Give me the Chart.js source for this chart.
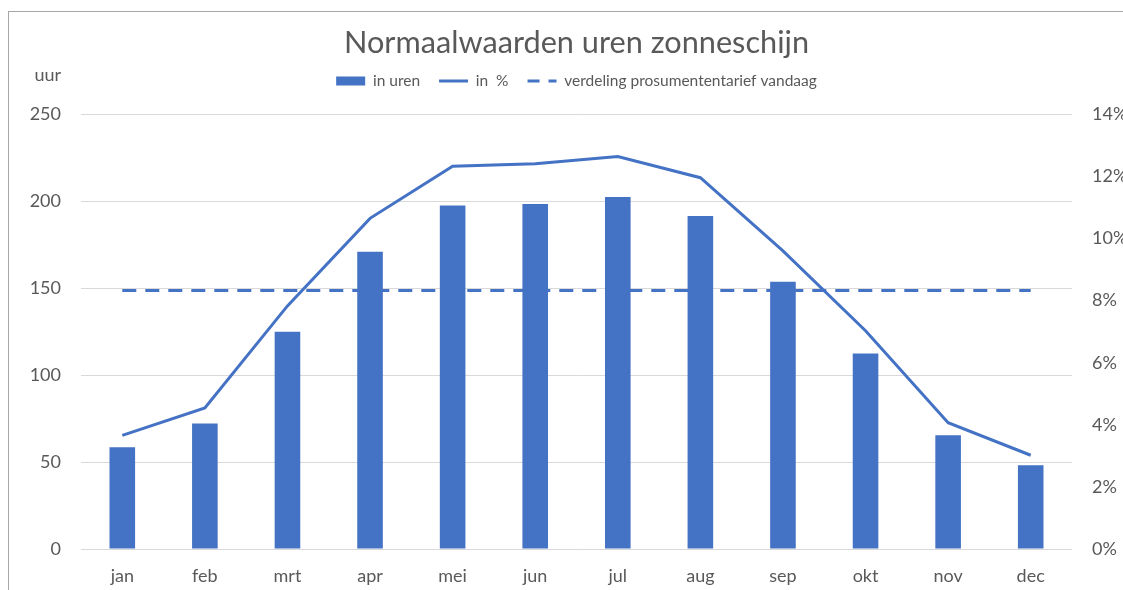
<!DOCTYPE html>
<html>
<head>
<meta charset="utf-8">
<script src="https://cdn.jsdelivr.net/npm/chart.js@4/dist/chart.umd.min.js"></script>
<style>
  html, body { margin: 0; padding: 0; background: #fff; }
  #wrap { position: relative; width: 1123px; height: 590px; }
  #frame { position: absolute; left: 8px; top: 11px; width: 1200px; height: 700px; border-left: 1px solid #a6a6a6; border-top: 1px solid #a6a6a6; pointer-events: none; }
  canvas { position: absolute; left: 0; top: 0; }
</style>
</head>
<body>
<div id="wrap">
  <canvas id="c" width="1123" height="590"></canvas>
  <div id="frame"></div>
</div>
<script>
const titleText = 'Normaalwaarden uren zonneschijn';
const yAxisUnit = 'uur';
const months = ['jan','feb','mrt','apr','mei','jun','jul','aug','sep','okt','nov','dec'];
const hours = [58.5, 72.2, 125, 171, 197.5, 198.5, 202.5, 191.5, 153.7, 112.4, 65.4, 48.2];
const percent = [3.66, 4.54, 7.83, 10.65, 12.33, 12.41, 12.64, 11.96, 9.60, 7.03, 4.07, 3.02];
const tariff = [8.33, 8.33, 8.33, 8.33, 8.33, 8.33, 8.33, 8.33, 8.33, 8.33, 8.33, 8.33];
const seriesNames = ['in uren', 'in  %', 'verdeling prosumententarief vandaag'];
const leftTicks = [0, 50, 100, 150, 200, 250];
const rightTicks = [0, 2, 4, 6, 8, 10, 12, 14];

const BLUE = '#4472C4';
const GREY = '#595959';
const FONT = 'Lato, "Open Sans", sans-serif';

const unitLabel = {
  id: 'unitLabel',
  beforeLayout(chart) {
    const lg = chart.legend;
    if (lg && !lg._fixedH) {
      const orig = lg.fit.bind(lg);
      lg.fit = function () { orig(); this.height = 60; };
      lg._fixedH = true;
    }
  },
  afterDraw(chart) {
    const ctx = chart.ctx;
    ctx.save();
    ctx.font = '18px ' + FONT;
    ctx.fillStyle = GREY;
    ctx.textAlign = 'right';
    ctx.textBaseline = 'alphabetic';
    ctx.fillText(yAxisUnit, 61, 81);
    ctx.restore();
  }
};

new Chart(document.getElementById('c'), {
  data: {
    labels: months,
    datasets: [
      { type: 'bar', label: seriesNames[0], data: hours, yAxisID: 'y',
        backgroundColor: BLUE, borderColor: '#ffffff', borderWidth: 0,
        barPercentage: 0.62, categoryPercentage: 0.5, order: 3 },
      { type: 'line', label: seriesNames[1], data: percent, yAxisID: 'y1',
        borderColor: BLUE, backgroundColor: BLUE, borderWidth: 3, pointRadius: 0,
        tension: 0, fill: false, order: 2 },
      { type: 'line', label: seriesNames[2], data: tariff, yAxisID: 'y1',
        borderColor: BLUE, backgroundColor: BLUE, borderWidth: 3, borderDash: [14, 9],
        pointRadius: 0, tension: 0, fill: false, order: 1 }
    ]
  },
  options: {
    responsive: false,
    animation: false,
    layout: { padding: { left: 0, right: 0, top: 0, bottom: 0 } },
    plugins: {
      title: {
        display: true, text: titleText, color: GREY, fullSize: false,
        font: { family: FONT, size: 30.7, weight: 'normal', lineHeight: 1.2 },
        padding: { top: 24.5, bottom: -7 }
      },
      legend: {
        display: true, fullSize: false,
        labels: {
          color: GREY,
          font: { family: FONT, size: 15.5 },
          usePointStyle: true,
          boxWidth: 21, boxHeight: 9, pointStyleWidth: 29,
          padding: 19,
          generateLabels(chart) {
            return chart.data.datasets.map((ds, i) => ({
              text: ds.label,
              fillStyle: BLUE,
              strokeStyle: BLUE,
              lineWidth: i === 0 ? 0 : 3,
              lineDash: ds.borderDash ? [12, 9] : [],
              pointStyle: i === 0 ? 'rect' : 'line',
              datasetIndex: i,
              hidden: false,
              fontColor: GREY
            }));
          }
        }
      },
      tooltip: { enabled: false }
    },
    scales: {
      x: {
        grid: { display: false },
        border: { display: false },
        ticks: { color: GREY, font: { family: FONT, size: 18 }, padding: 8 },
        afterFit(scale) { scale.height = 41; }
      },
      y: {
        position: 'left', min: 0, max: 250,
        afterBuildTicks(scale) { scale.ticks = leftTicks.map(v => ({ value: v })); },
        grid: { color: '#d9d9d9', lineWidth: 1, drawTicks: false },
        border: { display: false },
        ticks: { color: GREY, font: { family: FONT, size: 18 }, padding: 20 },
        afterFit(scale) { scale.width = 81; }
      },
      y1: {
        position: 'right', min: 0, max: 14,
        afterBuildTicks(scale) { scale.ticks = rightTicks.map(v => ({ value: v })); },
        grid: { display: false, drawTicks: false },
        border: { display: false },
        ticks: { color: GREY, font: { family: FONT, size: 18 }, padding: 20,
                 callback: v => v + '%' },
        afterFit(scale) { scale.width = 51; }
      }
    }
  },
  plugins: [unitLabel]
});
</script>
</body>
</html>
